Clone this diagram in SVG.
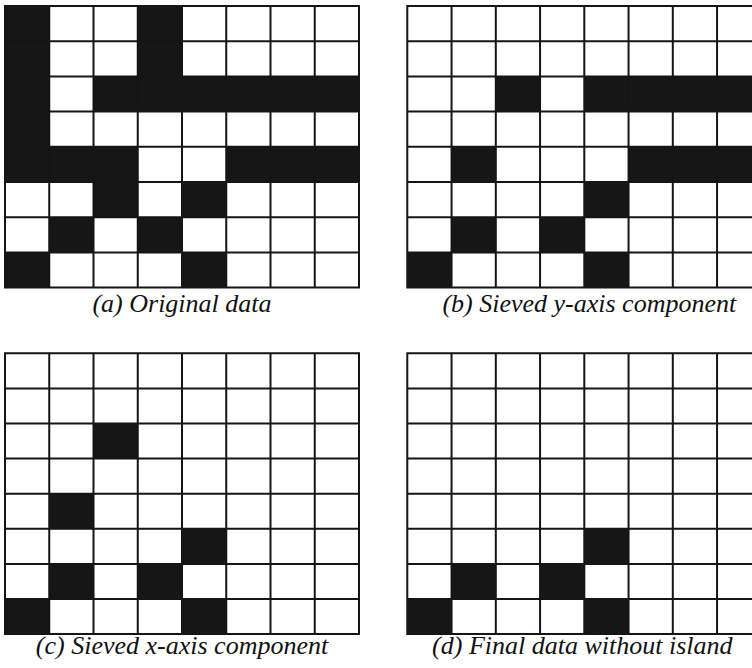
<svg xmlns="http://www.w3.org/2000/svg" width="752" height="668" viewBox="0 0 752 668">
<defs>
<style>
.bg{fill:#ffffff}
.on{fill:#161616}
.grid{stroke:#151515;stroke-width:2;fill:none}
.cap{font-family:"Liberation Serif","Times New Roman",serif;font-style:italic;font-size:26px;fill:#111;text-anchor:middle}
</style>
</defs>
<rect class="bg" x="0" y="0" width="752" height="668"/>

<!-- Panel A -->
<g id="panel-a" transform="translate(5,6)">
<g class="on">
<rect x="0" y="0" width="44.25" height="176"/>
<rect x="132.75" y="0" width="44.25" height="105.6"/>
<rect x="88.5" y="70.4" width="265.5" height="35.2"/>
<rect x="0" y="140.8" width="132.75" height="35.2"/>
<rect x="221.25" y="140.8" width="132.75" height="35.2"/>
<rect x="88.5" y="176" width="44.25" height="35.2"/>
<rect x="177" y="176" width="44.25" height="35.2"/>
<rect x="44.25" y="211.2" width="44.25" height="35.2"/>
<rect x="132.75" y="211.2" width="44.25" height="35.2"/>
<rect x="0" y="246.4" width="44.25" height="35.2"/>
<rect x="177" y="246.4" width="44.25" height="35.2"/>
</g>
<path class="grid" d="M0 0H354V281.6H0Z M44.25 0V281.6 M88.5 0V281.6 M132.75 0V281.6 M177 0V281.6 M221.25 0V281.6 M265.5 0V281.6 M309.75 0V281.6 M0 35.2H354 M0 70.4H354 M0 105.6H354 M0 140.8H354 M0 176H354 M0 211.2H354 M0 246.4H354"/>
<text class="cap" x="177" y="306">(a) Original data</text>
</g>

<!-- Panel B -->
<g id="panel-b" transform="translate(407.3,6)">
<g class="on">
<rect x="88.5" y="70.4" width="44.25" height="35.2"/>
<rect x="177" y="70.4" width="177" height="35.2"/>
<rect x="44.25" y="140.8" width="44.25" height="35.2"/>
<rect x="221.25" y="140.8" width="132.75" height="35.2"/>
<rect x="177" y="176" width="44.25" height="35.2"/>
<rect x="44.25" y="211.2" width="44.25" height="35.2"/>
<rect x="132.75" y="211.2" width="44.25" height="35.2"/>
<rect x="0" y="246.4" width="44.25" height="35.2"/>
<rect x="177" y="246.4" width="44.25" height="35.2"/>
</g>
<path class="grid" d="M354 0H0V281.6H354 M44.25 0V281.6 M88.5 0V281.6 M132.75 0V281.6 M177 0V281.6 M221.25 0V281.6 M265.5 0V281.6 M309.75 0V281.6 M0 35.2H354 M0 70.4H354 M0 105.6H354 M0 140.8H354 M0 176H354 M0 211.2H354 M0 246.4H354"/>
<text class="cap" x="182" y="306">(b) Sieved y-axis component</text>
</g>

<!-- Panel C -->
<g id="panel-c" transform="translate(5,353.3)">
<g class="on">
<rect x="88.5" y="70.2" width="44.25" height="35.1"/>
<rect x="44.25" y="140.4" width="44.25" height="35.1"/>
<rect x="177" y="175.5" width="44.25" height="35.1"/>
<rect x="44.25" y="210.6" width="44.25" height="35.1"/>
<rect x="132.75" y="210.6" width="44.25" height="35.1"/>
<rect x="0" y="245.7" width="44.25" height="35.1"/>
<rect x="177" y="245.7" width="44.25" height="35.1"/>
</g>
<path class="grid" d="M0 0H354V280.7H0Z M44.25 0V280.7 M88.5 0V280.7 M132.75 0V280.7 M177 0V280.7 M221.25 0V280.7 M265.5 0V280.7 M309.75 0V280.7 M0 35.1H354 M0 70.2H354 M0 105.3H354 M0 140.4H354 M0 175.5H354 M0 210.6H354 M0 245.7H354"/>
<text class="cap" x="177" y="301">(c) Sieved x-axis component</text>
</g>

<!-- Panel D -->
<g id="panel-d" transform="translate(407.3,353.3)">
<g class="on">
<rect x="177" y="175.5" width="44.25" height="35.1"/>
<rect x="44.25" y="210.6" width="44.25" height="35.1"/>
<rect x="132.75" y="210.6" width="44.25" height="35.1"/>
<rect x="0" y="245.7" width="44.25" height="35.1"/>
<rect x="177" y="245.7" width="44.25" height="35.1"/>
</g>
<path class="grid" d="M354 0H0V280.7H354 M44.25 0V280.7 M88.5 0V280.7 M132.75 0V280.7 M177 0V280.7 M221.25 0V280.7 M265.5 0V280.7 M309.75 0V280.7 M0 35.1H354 M0 70.2H354 M0 105.3H354 M0 140.4H354 M0 175.5H354 M0 210.6H354 M0 245.7H354"/>
<text class="cap" x="175" y="301">(d) Final data without island</text>
</g>
</svg>
